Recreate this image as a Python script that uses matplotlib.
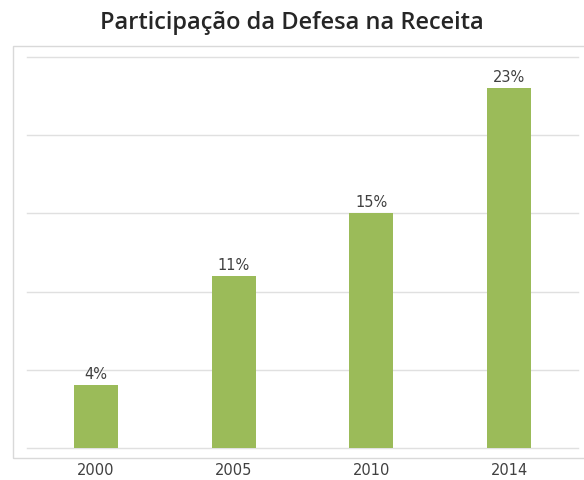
import matplotlib
matplotlib.use("Agg")
import matplotlib.pyplot as plt
from matplotlib.patches import Rectangle

categories = ["2000", "2005", "2010", "2014"]
values = [4, 11, 15, 23]
labels = ["4%", "11%", "15%", "23%"]
title = "Participação da Defesa na Receita"

W, H = 584, 481
fig = plt.figure(figsize=(W / 100, H / 100), dpi=100)
fig.patch.set_facecolor("white")

# outer chart border box
fig.patches.append(Rectangle((13 / W, 1 - 459 / H), (W + 5 - 13) / W, (459 - 47) / H,
                             transform=fig.transFigure, fill=False,
                             edgecolor="#d9d9d9", linewidth=1.0, zorder=0))

ax = fig.add_axes([27 / W, 1 - 449 / H, (578 - 27) / W, (449 - 58) / H])
x = range(len(categories))
ax.bar(x, values, width=0.32, color="#9bbb59", zorder=2)
ax.set_xlim(-0.5, len(categories) - 0.5)
ax.set_ylim(0, 25)
ax.set_yticks([0, 5, 10, 15, 20, 25])
ax.yaxis.grid(True, color="#e0e0e0", linewidth=1.0, zorder=0)
for gl in ax.get_ygridlines():
    gl.set_clip_on(False)
ax.set_yticklabels([])
ax.tick_params(axis="y", length=0)
ax.set_xticks(list(x))
ax.set_xticklabels(categories, fontsize=10.5, color="#404040")
ax.tick_params(axis="x", length=0, pad=10)
for s in ax.spines.values():
    s.set_visible(False)
for xi, v, lab in zip(x, values, labels):
    ax.annotate(lab, (xi, v), xytext=(0, 3), textcoords="offset points",
                ha="center", va="bottom", fontsize=10.5, color="#404040")

fig.text(0.5, 1 - 23 / H, title, ha="center", va="center",
         fontsize=17, fontweight="semibold", color="#262626", family="Open Sans")

fig.savefig("out.png", dpi=100, facecolor="white")
